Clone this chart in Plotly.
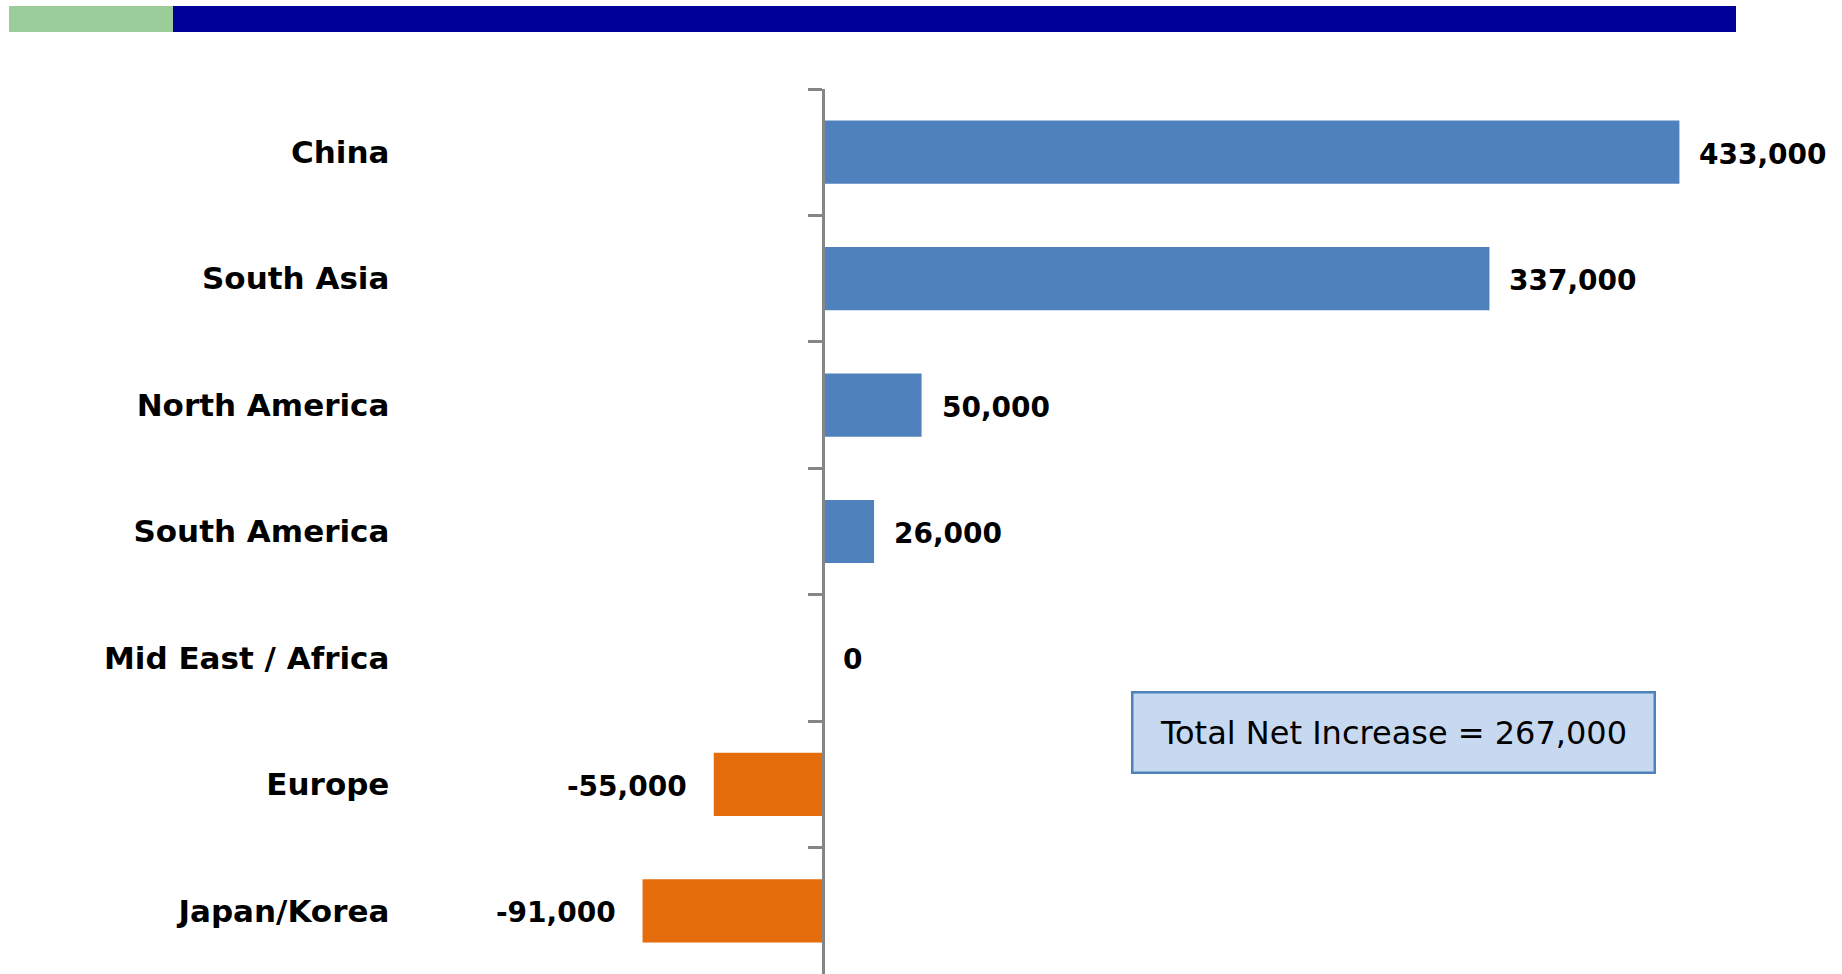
import plotly.graph_objects as go

# Net change by region
regions = ["China", "South Asia", "North America", "South America",
           "Mid East / Africa", "Europe", "Japan/Korea"]
net_change = [433000, 337000, 50000, 26000, 0, -55000, -91000]
total_label = "Total Net Increase = 267,000"

POS_COLOR = "#4F81BD"
NEG_COLOR = "#E46C0A"
AXIS_COLOR = "#868686"
FONT = "DejaVu Sans"

W, H = 1842, 974
L, R, T, B = 506, 30, 89, 0
X_MIN, X_MAX = -160000, 500000
plot_w = W - L - R
plot_h = H - T - B


def px_to_paper_x(px):
    return (px - L) / plot_w


def px_to_paper_y(py):
    return (H - B - py) / plot_h


colors = [POS_COLOR if v >= 0 else NEG_COLOR for v in net_change]

fig = go.Figure(go.Bar(
    x=net_change,
    y=regions,
    orientation="h",
    marker=dict(color=colors, line=dict(width=0)),
    width=0.5,
    hoverinfo="x+y",
))

# value labels next to each bar end
for reg, v in zip(regions, net_change):
    fig.add_annotation(
        x=v, y=reg, xref="x", yref="y",
        text=f"{v:,}",
        showarrow=False,
        xanchor="left" if v >= 0 else "right",
        xshift=18 if v >= 0 else -25,
        yshift=-2,
        font=dict(family=FONT, size=28, color="#000000", weight="bold"),
    )

# summary box
fig.add_annotation(
    x=px_to_paper_x(1393), y=px_to_paper_y(732.5), xref="paper", yref="paper",
    text=total_label,
    showarrow=False,
    xanchor="center", yanchor="middle",
    width=520, height=78,
    align="center",
    bgcolor="#C6D9F1",
    bordercolor="#4F81BD",
    borderwidth=2.5,
    borderpad=0,
    font=dict(family=FONT, size=32, color="#000000"),
)

# header band
fig.add_shape(type="rect", xref="paper", yref="paper",
              x0=px_to_paper_x(9), x1=px_to_paper_x(173),
              y0=px_to_paper_y(32), y1=px_to_paper_y(6),
              fillcolor="#9BCD9B", line=dict(width=0), layer="above")
fig.add_shape(type="rect", xref="paper", yref="paper",
              x0=px_to_paper_x(173), x1=px_to_paper_x(1736),
              y0=px_to_paper_y(32), y1=px_to_paper_y(6),
              fillcolor="#000099", line=dict(width=0), layer="above")

zero_pos = (0 - X_MIN) / (X_MAX - X_MIN)

fig.update_layout(
    width=W, height=H,
    margin=dict(l=L, r=R, t=T, b=B, pad=0),
    paper_bgcolor="#FFFFFF",
    plot_bgcolor="#FFFFFF",
    showlegend=False,
    xaxis=dict(range=[X_MIN, X_MAX], visible=False, showgrid=False,
               zeroline=False, fixedrange=True),
    yaxis=dict(
        autorange="reversed",
        anchor="free", position=zero_pos,
        showline=True, linecolor=AXIS_COLOR, linewidth=3,
        ticks="outside", tickson="boundaries", ticklen=14,
        tickwidth=2.5, tickcolor=AXIS_COLOR,
        ticklabelstandoff=426,
        tickfont=dict(family=FONT, size=31, color="#000000", weight="bold"),
        showgrid=False, zeroline=False,
    ),
)

fig.write_html("out.html")
